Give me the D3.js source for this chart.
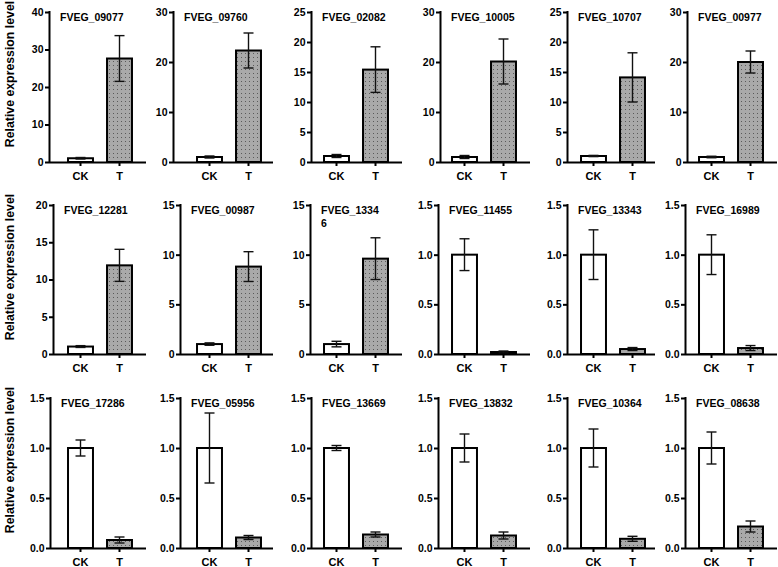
<!DOCTYPE html>
<html>
<head>
<meta charset="utf-8">
<script src="https://cdn.jsdelivr.net/npm/d3@7"></script>
<style>
  html, body { margin: 0; padding: 0; background: #fff; }
  svg { display: block; }
  text { font-family: "Liberation Sans", Arial, Helvetica, sans-serif; font-weight: bold; fill: #000; }
</style>
</head>
<body>
<svg id="chart" width="778" height="567"></svg>
<script>
// ---- data ----
const categories = ["CK", "T"];
const titles = [
  "FVEG_09077", "FVEG_09760", "FVEG_02082", "FVEG_10005", "FVEG_10707", "FVEG_00977",
  "FVEG_12281", "FVEG_00987", "FVEG_1334\n6", "FVEG_11455", "FVEG_13343", "FVEG_16989",
  "FVEG_17286", "FVEG_05956", "FVEG_13669", "FVEG_13832", "FVEG_10364", "FVEG_08638"
];
const ckMean = [1, 1, 1, 1, 1, 1,  1, 1, 1, 1, 1, 1,  1, 1, 1, 1, 1, 1];
const ckErr  = [0.2, 0.2, 0.25, 0.3, 0.1, 0.15,  0.12, 0.12, 0.28, 0.16, 0.25, 0.2,
                0.08, 0.35, 0.025, 0.14, 0.19, 0.16];
const tMean  = [27.6, 22.3, 15.4, 20.1, 14.1, 20.0,  11.9, 8.8, 9.6, 0.02, 0.05, 0.06,
                0.08, 0.105, 0.135, 0.125, 0.092, 0.215];
const tErr   = [6.1, 3.5, 3.8, 4.5, 4.1, 2.2,  2.15, 1.5, 2.1, 0.01, 0.015, 0.025,
                0.03, 0.02, 0.025, 0.035, 0.025, 0.055];
const yMax   = [40, 30, 25, 30, 25, 30,  20, 15, 15, 1.5, 1.5, 1.5,  1.5, 1.5, 1.5, 1.5, 1.5, 1.5];
const yStep  = [10, 10, 5, 10, 5, 10,  5, 5, 5, 0.5, 0.5, 0.5,  0.5, 0.5, 0.5, 0.5, 0.5, 0.5];
const yTitle = "Relative expression level";

// ---- layout ----
const rowTop  = [12, 205, 398];
const rowZero = [162, 354, 548];
const axisX = [
  [49, 173, 311, 440, 567, 687],
  [53, 180, 310, 438, 567, 685],
  [50, 180, 311, 438, 567, 685]
];
const axisEnd = [146, 273, 402, 530, 655, 777];
const barMid  = [100, 229, 356, 484, 613, 731];

const svg = d3.select("#chart");
const defs = svg.append("defs");
const pat = defs.append("pattern")
  .attr("id", "dots").attr("patternUnits", "userSpaceOnUse")
  .attr("width", 4).attr("height", 4);
pat.append("rect").attr("width", 4).attr("height", 4).attr("fill", "#a9a9a9");
pat.append("rect").attr("x", 1).attr("y", 1).attr("width", 1).attr("height", 1).attr("fill", "#5a5a5a");

// y axis titles
rowTop.forEach((t, r) => {
  svg.append("text")
    .attr("transform", `translate(14,${t + 62}) rotate(-90)`)
    .attr("text-anchor", "middle")
    .style("font-size", "12.3px")
    .text(yTitle);
});

titles.forEach((title, i) => {
  const r = Math.floor(i / 6), c = i % 6;
  const x0 = axisX[r][c], x1 = axisEnd[c];
  const y = d3.scaleLinear().domain([0, yMax[i]]).range([rowZero[r], rowTop[r]]);
  const x = d3.scaleBand().domain(categories)
    .range([barMid[c] - 50, barMid[c] + 50])
    .paddingInner(0.36).paddingOuter(0.462);
  const g = svg.append("g");
  const vals = [
    { cat: "CK", mean: ckMean[i], err: ckErr[i], fill: "#ffffff" },
    { cat: "T", mean: tMean[i], err: tErr[i], fill: "url(#dots)" }
  ];

  // bars
  g.selectAll("rect.bar").data(vals).join("rect")
    .attr("class", "bar")
    .attr("x", d => x(d.cat))
    .attr("width", x.bandwidth())
    .attr("y", d => y(d.mean))
    .attr("height", d => y(0) - y(d.mean))
    .attr("fill", d => d.fill)
    .attr("stroke", "#000").attr("stroke-width", 2);

  // error bars
  const eb = g.selectAll("g.eb").data(vals).join("g").attr("class", "eb")
    .attr("stroke", "#111").attr("stroke-width", 1.4);
  eb.append("line")
    .attr("x1", d => x(d.cat) + x.bandwidth() / 2).attr("x2", d => x(d.cat) + x.bandwidth() / 2)
    .attr("y1", d => y(Math.max(0, d.mean - d.err))).attr("y2", d => y(d.mean + d.err));
  eb.append("line")
    .attr("x1", d => x(d.cat) + x.bandwidth() / 2 - 5).attr("x2", d => x(d.cat) + x.bandwidth() / 2 + 5)
    .attr("y1", d => y(d.mean + d.err)).attr("y2", d => y(d.mean + d.err));
  eb.append("line")
    .attr("x1", d => x(d.cat) + x.bandwidth() / 2 - 5).attr("x2", d => x(d.cat) + x.bandwidth() / 2 + 5)
    .attr("y1", d => y(Math.max(0, d.mean - d.err))).attr("y2", d => y(Math.max(0, d.mean - d.err)));

  // y axis
  const ticks = d3.range(0, yMax[i] + yStep[i] / 2, yStep[i]);
  const fmt = yStep[i] < 1 ? d3.format(".1f") : d3.format("d");
  const ya = svg.append("g").attr("transform", `translate(${x0},0)`)
    .call(d3.axisLeft(y).tickValues(ticks).tickFormat(fmt).tickSizeInner(4).tickSizeOuter(0).tickPadding(1.5));
  ya.select(".domain").attr("stroke", "#000").attr("stroke-width", 2)
    .attr("d", `M0.5,${rowTop[r] - 1}V${rowZero[r] + 1}`);
  ya.selectAll(".tick line").attr("stroke", "#000").attr("stroke-width", 2);
  ya.selectAll(".tick text").style("font-size", "10.5px").style("font-family", '"Liberation Sans", Arial, sans-serif').style("font-weight", "bold");

  // x axis
  const xa = svg.append("g").attr("transform", `translate(0,${rowZero[r]})`)
    .call(d3.axisBottom(x).tickSizeInner(4).tickSizeOuter(0).tickPadding(6));
  xa.select(".domain").attr("stroke", "#000").attr("stroke-width", 2)
    .attr("d", `M${x0},0.5H${x1}`);
  xa.selectAll(".tick line").attr("stroke", "#000").attr("stroke-width", 2);
  xa.selectAll(".tick text").style("font-size", "11px").style("font-family", '"Liberation Sans", Arial, sans-serif').style("font-weight", "bold");

  // panel title
  const lines = title.split("\n");
  const tt = svg.append("text")
    .attr("x", x0 + 11).attr("y", rowTop[r] + 9)
    .style("font-size", "10.5px");
  lines.forEach((ln, k) => {
    tt.append("tspan").attr("x", x0 + 11).attr("dy", k === 0 ? 0 : 13).text(ln);
  });
});
</script>
</body>
</html>
